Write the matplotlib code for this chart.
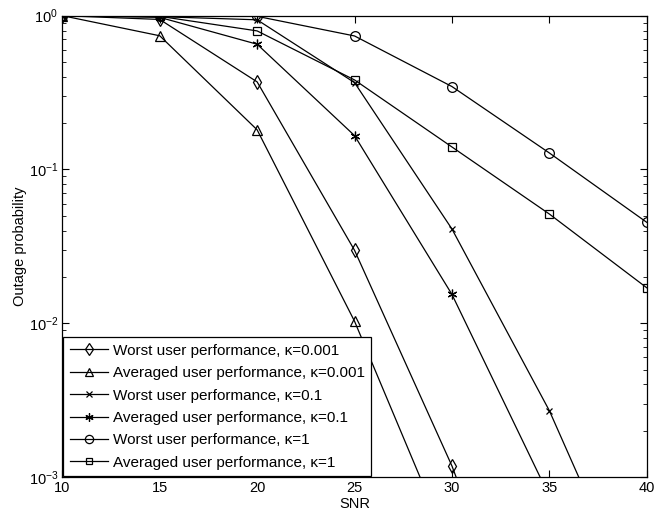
import numpy as np
import matplotlib
matplotlib.use('Agg')
from matplotlib import pyplot as plt

plt.rcParams['font.family'] = ['Liberation Sans', 'DejaVu Sans']

snr = [10, 15, 20, 25, 30, 35, 40]

# Outage probability curves
worst_001 = [1.0, 0.945, 0.371, 0.0298, 0.00118, 2.4e-5, 5e-7]
avg_001 = [1.0, 0.74, 0.181, 0.0103, 3.2e-4, 8e-6, 2e-7]
worst_01 = [1.0, 0.985, 0.94, 0.367, 0.041, 0.0027, 1.0e-4]
avg_01 = [1.0, 0.975, 0.652, 0.166, 0.0154, 7.5e-4, 3e-5]
worst_1 = [1.0, 1.0, 0.99, 0.738, 0.346, 0.128, 0.0453]
avg_1 = [1.0, 0.99, 0.796, 0.382, 0.140, 0.0513, 0.017]

labels = [
    'Worst user performance, \u03ba=0.001',
    'Averaged user performance, \u03ba=0.001',
    'Worst user performance, \u03ba=0.1',
    'Averaged user performance, \u03ba=0.1',
    'Worst user performance, \u03ba=1',
    'Averaged user performance, \u03ba=1',
]
series = [worst_001, avg_001, worst_01, avg_01, worst_1, avg_1]
markers = ['d', '^', 'x', (6, 2, 0), 'o', 's']
msizes = [7, 7, 5, 7, 7, 5.5]

fig = plt.figure(figsize=(6.54, 5.17), dpi=100)
ax = fig.add_axes([0.0953, 0.0774, 0.8936, 0.8923])

for ys, lab, m, ms in zip(series, labels, markers, msizes):
    ax.semilogy(snr, ys, color='black', lw=0.9, marker=m, ms=ms,
                mfc='none', mec='black', mew=0.9, label=lab)

ax.set_xlim(10, 40)
ax.set_ylim(1e-3, 1)
ax.set_xticks([10, 15, 20, 25, 30, 35, 40])
ax.tick_params(which='both', direction='in', top=True, right=True, labelsize=10.5)
ax.tick_params(which='major', length=5, pad=3)
ax.tick_params(which='minor', length=3)
ax.set_xlabel('SNR', fontsize=10.5, labelpad=1.5)
ax.set_ylabel('Outage probability', fontsize=10.5, labelpad=1)
for s in ax.spines.values():
    s.set_linewidth(0.9)

leg = ax.legend(loc='lower left', fontsize=11, handlelength=2.5, borderaxespad=0.05,
                fancybox=False, edgecolor='black', framealpha=1, labelspacing=0.55,
                borderpad=0.42, handletextpad=0.35, markerscale=0.85)
leg.get_frame().set_linewidth(0.9)

fig.savefig('out.png', dpi=100)
